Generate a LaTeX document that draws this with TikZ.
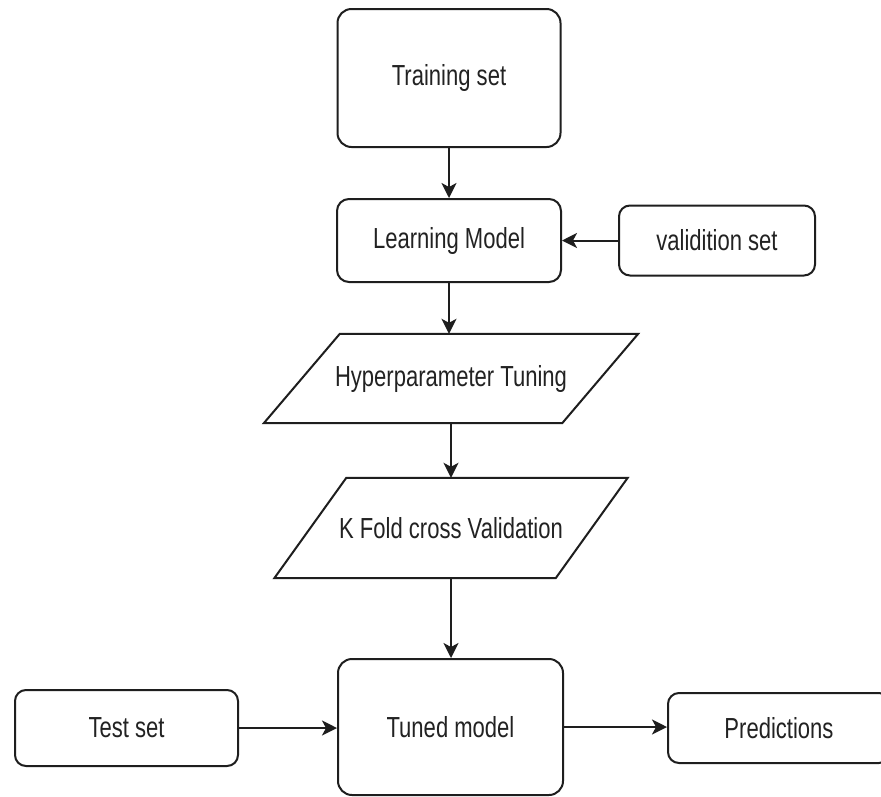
\documentclass[tikz,border=0pt]{standalone}
\usepackage{fontspec}
\setmainfont[FakeStretch=0.76]{Liberation Sans}
\usetikzlibrary{arrows.meta}
\definecolor{linec}{HTML}{1E1E1E}
\definecolor{textc}{HTML}{222222}
\begin{document}
\begin{tikzpicture}[x=1pt,y=-1pt,
  lbl/.style={inner sep=0pt, font=\fontsize{29}{34}\selectfont, text=textc},
  box/.style={lbl, draw=linec, line width=2pt, rounded corners=#1, fill=white},
  box/.default=11pt,
  para/.style={lbl},
  outline/.style={draw=linec, line width=2pt, line join=miter},
  conn/.style={draw=linec, line width=2pt, -{Stealth[length=15pt,width=15pt,inset=4pt]}}]
\useasboundingbox[fill=white] (0,0) rectangle (881,796);

\node[box=14pt, minimum width=223pt, minimum height=138pt] (train) at (449,78) {Training set};
\node[box=12pt, minimum width=224pt, minimum height=83pt] (learn) at (449,240.5) {Learning Model};
\node[box, minimum width=196pt, minimum height=70pt] (valid) at (717,240.5) {validition set};

\node[para, minimum width=374pt, minimum height=89pt] (hp) at (451,378.5) {Hyperparameter Tuning};
\draw[outline] ([xshift=76pt]hp.north west) -- (hp.north east) -- ([xshift=-76pt]hp.south east) -- (hp.south west) -- cycle;

\node[para, minimum width=353pt, minimum height=100pt] (kf) at (451,528) {K Fold cross Validation};
\draw[outline] ([xshift=72pt]kf.north west) -- (kf.north east) -- ([xshift=-72pt]kf.south east) -- (kf.south west) -- cycle;

\node[box=14pt, minimum width=225pt, minimum height=136pt] (tuned) at (450.5,727) {Tuned model};
\node[box, minimum width=223pt, minimum height=76pt] (test) at (126.5,728) {Test set};
\node[box, minimum width=222pt, minimum height=70pt, anchor=west] (pred) at (667,728) {Predictions};

\draw[conn] (train.south) -- (train.south |- learn.north);
\draw[conn] (valid.west) -- (learn.east);
\draw[conn] (learn.south) -- (learn.south |- hp.north);
\draw[conn] (hp.south) -- (hp.south |- kf.north);
\draw[conn] (kf.south) -- (kf.south |- tuned.north);
\draw[conn] (test.east) -- (test.east -| tuned.west);
\draw[conn] (tuned.east) -- (tuned.east -| pred.west);
\end{tikzpicture}
\end{document}
